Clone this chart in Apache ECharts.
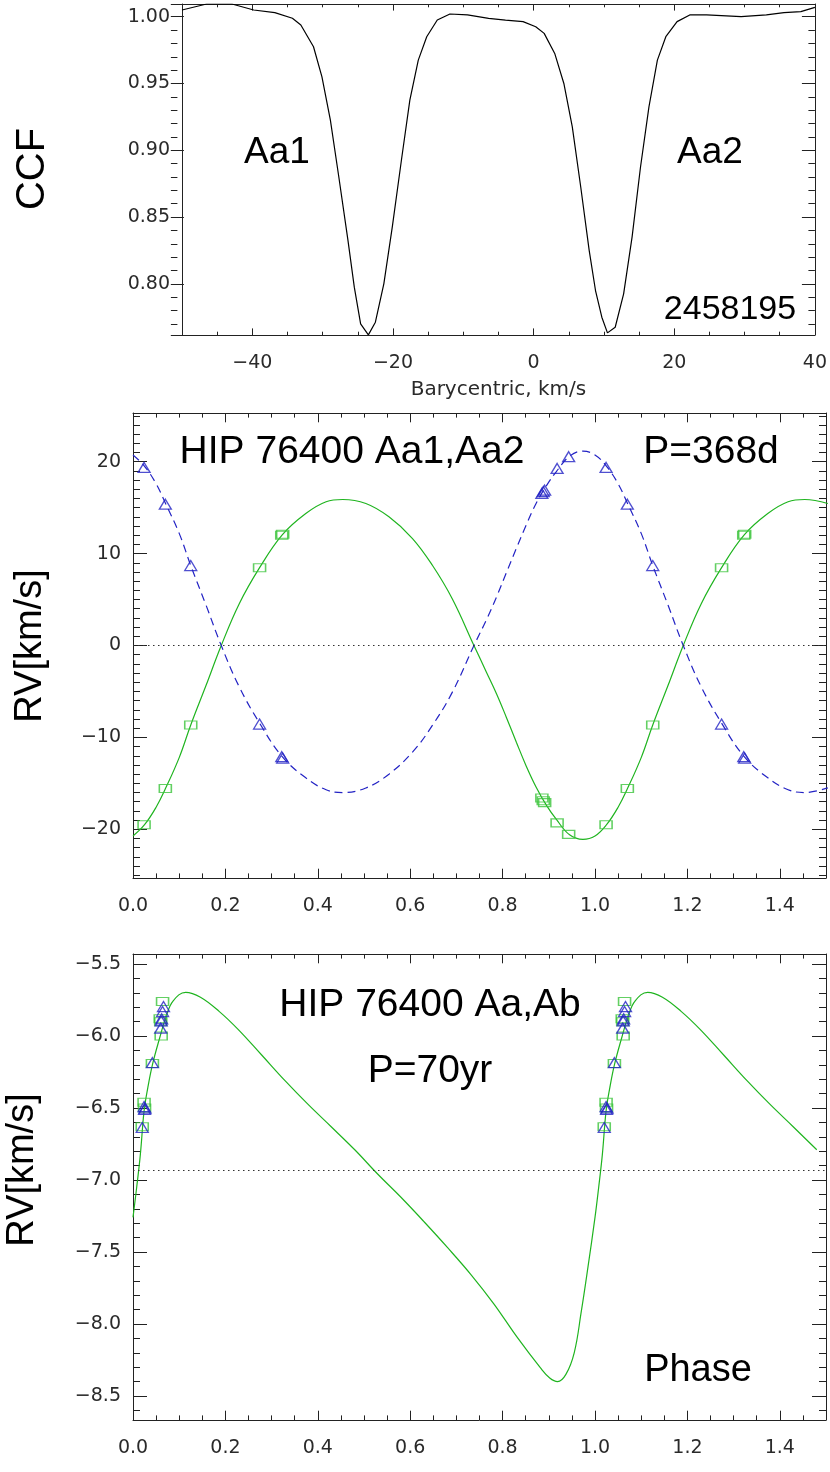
<!DOCTYPE html>
<html>
<head>
<meta charset="utf-8">
<script src="https://cdn.jsdelivr.net/npm/echarts@6/dist/echarts.min.js"></script>
<style>
  html, body { margin: 0; padding: 0; background: #fff; }
  #chart { width: 830px; height: 1472px; }
</style>
</head>
<body>
<div id="chart"></div>
<script>
// ---- panel 1: cross-correlation function, JD 2458195
const ccfVelocity = [-50, -46.5, -42.9, -39.8, -36.8, -34.3, -33.1, -31.3, -30.1, -28.9,
  -27.7, -26.4, -25.5, -24.6, -23.5, -22.5, -21.3, -20.1, -18.8, -17.6,
  -16.4, -15.2, -13.7, -11.9, -9.4, -6.4, -4.0, -1.5, 0.3, 1.5,
  3.0, 4.3, 5.5, 6.7, 7.9, 8.8, 9.7, 10.5, 11.6, 12.8,
  14.0, 15.2, 16.4, 17.6, 18.8, 20.4, 22.2, 24.6, 29.5, 33.1,
  35.6, 38.0, 40.0]
const ccfValue = [1.005, 1.0095, 1.0095, 1.005, 1.003, 0.9988, 0.9938, 0.9775, 0.955, 0.9225,
  0.88, 0.8325, 0.7975, 0.77, 0.7618, 0.7713, 0.80, 0.8425, 0.8925, 0.9375,
  0.9675, 0.985, 0.9975, 1.002, 1.0013, 0.9988, 0.9975, 0.9963, 0.9925, 0.9875,
  0.9725, 0.95, 0.9175, 0.8725, 0.825, 0.795, 0.775, 0.7633, 0.7675, 0.7925,
  0.835, 0.8875, 0.9325, 0.9675, 0.985, 0.9963, 1.0013, 1.0013, 1.0, 1.0013,
  1.003, 1.0038, 1.007]

// ---- panel 2: inner pair Aa1,Aa2, P=368d (phase 0..1)
const innerCurvePhase = [0, 0.025, 0.05, 0.07, 0.1, 0.125, 0.158, 0.191, 0.23, 0.274,
  0.323, 0.374, 0.418, 0.454, 0.504, 0.554, 0.605, 0.648, 0.691, 0.738,
  0.765, 0.787, 0.808, 0.83, 0.851, 0.873, 0.895, 0.916, 0.945, 0.974, 1.0]
const aa1Curve = [-20.73, -19.5, -17.6, -15.6, -12.2, -8.65, -4.36, 0, 4.55, 8.47,
  12.04, 14.36, 15.64, 15.89, 15.45, 14.0, 11.64, 8.73, 5.09, 0,
  -2.9, -5.27, -7.8, -10.55, -13.1, -15.45, -17.4, -18.9, -20.6, -21.1, -20.73]
const aa2Curve = [20.73, 19.5, 17.6, 15.5, 12.2, 8.7, 4.4, 0, -4.5, -8.45,
  -12.1, -14.4, -15.7, -16.0, -15.5, -14.0, -11.6, -8.7, -5.1, 0,
  2.8, 5.3, 7.9, 10.6, 13.1, 15.5, 17.4, 18.9, 20.6, 21.15, 20.73]
const innerObsPhase = [0.024, 0.070, 0.125, 0.274, 0.322, 0.324, 0.885, 0.888, 0.891, 0.918, 0.943]
const aa1Obs = [-19.5, -15.56, -8.65, 8.47, 12.0, 12.1, -16.6, -16.9, -17.1, -19.3, -20.55]
const aa2Obs = [19.38, 15.38, 8.7, -8.55, -12.1, -12.25, 16.55, 16.75, 16.9, 19.27, 20.55]
const innerGamma = 0

// ---- panel 3: outer pair Aa,Ab, P=70yr (phase 0..1)
const outerCurvePhase = [0, 0.008, 0.016, 0.024, 0.032, 0.042, 0.058, 0.072, 0.087, 0.114,
  0.146, 0.187, 0.228, 0.278, 0.329, 0.379, 0.429, 0.48, 0.53, 0.58,
  0.63, 0.681, 0.731, 0.781, 0.831, 0.882, 0.902, 0.919, 0.937, 0.955,
  0.97, 0.985, 1.0]
const outerCurve = [-7.26, -7.05, -6.82, -6.52, -6.36, -6.2, -6.01, -5.86, -5.755, -5.696,
  -5.73, -5.83, -5.955, -6.13, -6.31, -6.475, -6.63, -6.79, -6.96, -7.12,
  -7.29, -7.47, -7.655, -7.86, -8.09, -8.305, -8.375, -8.40, -8.35, -8.2,
  -7.92, -7.6, -7.26]
const outerSqPhase = [0.020, 0.024, 0.025, 0.042, 0.059, 0.060, 0.061, 0.064]
const outerSq = [-6.63, -6.46, -6.50, -6.19, -5.88, -5.90, -6.0, -5.76]
const outerTriPhase = [0.020, 0.024, 0.025, 0.026, 0.042, 0.060, 0.061, 0.062, 0.064, 0.066]
const outerTri = [-6.635, -6.49, -6.51, -6.50, -6.185, -5.945, -5.895, -5.88, -5.83, -5.795]
const outerGamma = -6.935

const GREEN = '#1fb41f'
const GREEN_MARK = '#3cc43c'
const BLUE = '#2323c4'
const AXIS = '#222'

// phase-folded: repeat every point one cycle later while it stays on the axis
function folded(phases, values, maxPhase) {
  let pts = phases.map((p, i) => [p, values[i]])
  phases.forEach((p, i) => {
    if (p + 1 <= maxPhase + 0.01) pts.push([p + 1, values[i]])
  })
  return pts
}

const minus = s => String(s).replace('-', '\u2212')
const tickFont = { fontFamily: 'DejaVu Sans', fontSize: 19, color: '#2a2a2a' }

// splitNumber picks the nice step (major 20/0.05/0.2/10/0.5, minor 5/0.01/0.05/1/0.1)
function axis(grid, position, min, max, split, opts) {
  let horizontal = position === 'bottom' || position === 'top'
  let label = opts.label
  return {
    type: 'value', gridIndex: grid, position: position, min: min, max: max, splitNumber: split,
    offset: opts.offset || 0,
    axisLine: { show: !!opts.line, onZero: false, lineStyle: { color: AXIS, width: 1 } },
    axisTick: {
      show: opts.len > 0, inside: !!opts.inside, length: opts.len || 0,
      lineStyle: { color: AXIS, width: 1 }
    },
    axisLabel: label
      ? Object.assign({
          show: true, formatter: label.fmt, margin: horizontal ? 19 : 12,
          showMinLabel: label.showMin, showMaxLabel: label.showMax
        }, tickFont)
      : { show: false },
    splitLine: { show: false },
    minorTick: { show: false }
  }
}

// five axes per direction: the labelled side (line + labels only), then tick rows.
// Ticks are all drawn from the top/right axes; the bottom/left rows are those
// axes shifted across the grid with outward ticks, which point into the plot.
function frame(grid, horizontal, size, min, max, majorSplit, minorSplit, majorLen, minorLen, label, extra) {
  let p1 = horizontal ? 'bottom' : 'left'
  let p2 = horizontal ? 'top' : 'right'
  let main = Object.assign(axis(grid, p1, min, max, majorSplit, { line: true, label: label }), extra || {})
  return [
    main,
    axis(grid, p2, min, max, majorSplit, { line: true, len: majorLen, inside: true }),
    axis(grid, p2, min, max, minorSplit, { len: minorLen, inside: true }),
    axis(grid, p2, min, max, majorSplit, { len: majorLen, offset: -size }),
    axis(grid, p2, min, max, minorSplit, { len: minorLen, offset: -size })
  ]
}

const GRIDS = [
  { left: 182, top: 4, width: 644, height: 331 },
  { left: 133, top: 413, width: 693, height: 465 },
  { left: 133, top: 954, width: 693, height: 466 }
]

const phaseLabel = { fmt: v => v.toFixed(1), showMin: true, showMax: false }

const xAxes = [].concat(
  frame(0, true, GRIDS[0].height, -50, 40, 4, 18, 6.6, 3.3, { fmt: minus, showMin: false, showMax: true }, {
    name: 'Barycentric, km/s', nameLocation: 'middle', nameGap: 45,
    nameTextStyle: Object.assign({}, tickFont, { fontSize: 20 })
  }),
  frame(1, true, GRIDS[1].height, 0, 1.5, 7, 30, 9.3, 4.6, phaseLabel),
  frame(2, true, GRIDS[2].height, 0, 1.5, 7, 30, 9.3, 4.6, phaseLabel)
)
const yAxes = [].concat(
  frame(0, false, GRIDS[0].width, 0.7617, 1.0095, 5, 25, 13, 6.5, { fmt: v => v.toFixed(2), showMin: false, showMax: false }),
  frame(1, false, GRIDS[1].width, -25.3, 25.3, 5, 50, 14, 7, { fmt: minus, showMin: false, showMax: false }),
  frame(2, false, GRIDS[2].width, -8.667, -5.43, 6, 32, 14, 7, { fmt: v => minus(v.toFixed(1)), showMin: false, showMax: false })
)
const AX = 5 // axes per grid and direction; the labelled one comes first

function dottedLevel(value) {
  return {
    silent: true, symbol: 'none', label: { show: false },
    lineStyle: { color: '#333', width: 1, type: [1.5, 3.5] },
    data: [{ yAxis: value }]
  }
}

function squares(grid, data) {
  return {
    type: 'scatter', xAxisIndex: grid * AX, yAxisIndex: grid * AX, data: data,
    symbol: 'rect', symbolSize: [12, 8], z: 4,
    itemStyle: { color: 'rgba(0,0,0,0)', borderColor: GREEN_MARK, borderWidth: 1.3 }
  }
}

function triangles(grid, data) {
  return {
    type: 'scatter', xAxisIndex: grid * AX, yAxisIndex: grid * AX, data: data,
    symbol: 'triangle', symbolSize: [12, 10], z: 5,
    itemStyle: { color: 'rgba(0,0,0,0)', borderColor: BLUE, borderWidth: 1.3 }
  }
}

function curve(grid, data, color, type, level) {
  let s = {
    type: 'line', xAxisIndex: grid * AX, yAxisIndex: grid * AX, showSymbol: false,
    smooth: grid > 0 ? 0.4 : false, data: data,
    lineStyle: { color: color, width: 1.2, type: type || 'solid' }
  }
  if (level !== undefined) s.markLine = dottedLevel(level)
  return s
}

function text(str, x, y, size, rotate) {
  return {
    type: 'text', x: x, y: y, rotation: rotate ? Math.PI / 2 : 0, z: 20,
    style: {
      text: str, fontSize: size, fontFamily: 'Liberation Sans', fill: '#000',
      align: 'center', verticalAlign: 'middle'
    }
  }
}

const option = {
  animation: false,
  backgroundColor: '#fff',
  grid: GRIDS,
  xAxis: xAxes,
  yAxis: yAxes,
  graphic: [
    text('CCF', 33, 169, 40, true),
    text('Aa1', 277, 153, 37),
    text('Aa2', 710, 153, 37),
    text('2458195', 730, 310, 34),
    text('RV[km/s]', 31, 646, 38, true),
    text('HIP 76400 Aa1,Aa2', 352, 452, 39),
    text('P=368d', 711, 452, 39),
    text('RV[km/s]', 23, 1170, 38, true),
    text('HIP 76400 Aa,Ab', 430, 1005, 39),
    text('P=70yr', 430, 1071, 39),
    text('Phase', 698, 1371, 38)
  ],
  series: [
    curve(0, ccfVelocity.map((v, i) => [v, ccfValue[i]]), '#000'),
    curve(1, folded(innerCurvePhase, aa1Curve, 1.5), GREEN, 'solid', innerGamma),
    curve(1, folded(innerCurvePhase, aa2Curve, 1.5), BLUE, [8, 5]),
    squares(1, folded(innerObsPhase, aa1Obs, 1.5)),
    triangles(1, folded(innerObsPhase, aa2Obs, 1.5)),
    curve(2, folded(outerCurvePhase, outerCurve, 1.5), GREEN, 'solid', outerGamma),
    squares(2, folded(outerSqPhase, outerSq, 1.5)),
    triangles(2, folded(outerTriPhase, outerTri, 1.5))
  ]
}

const chart = echarts.init(document.getElementById('chart'))
chart.setOption(option)
</script>
</body>
</html>
